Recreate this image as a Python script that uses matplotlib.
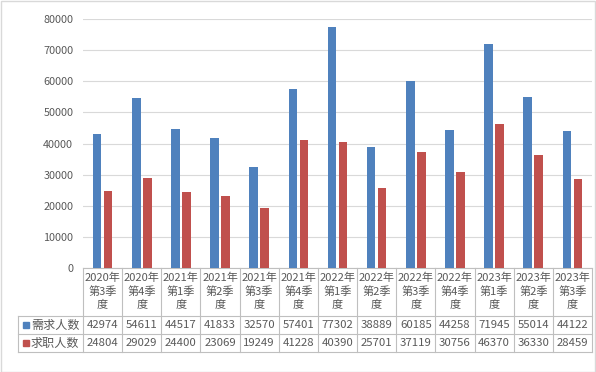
import matplotlib.pyplot as plt
from matplotlib.lines import Line2D
from matplotlib.patches import Rectangle
import numpy as np

plt.rcParams['font.family'] = ['Noto Sans CJK SC', 'DejaVu Sans']

categories = ['2020年\n第3季\n度', '2020年\n第4季\n度', '2021年\n第1季\n度', '2021年\n第2季\n度',
              '2021年\n第3季\n度', '2021年\n第4季\n度', '2022年\n第1季\n度', '2022年\n第2季\n度',
              '2022年\n第3季\n度', '2022年\n第4季\n度', '2023年\n第1季\n度', '2023年\n第2季\n度',
              '2023年\n第3季\n度']
demand = [42974, 54611, 44517, 41833, 32570, 57401, 77302, 38889, 60185, 44258, 71945, 55014, 44122]
seekers = [24804, 29029, 24400, 23069, 19249, 41228, 40390, 25701, 37119, 30756, 46370, 36330, 28459]
series_names = ['需求人数', '求职人数']
colors = ['#4F81BD', '#C0504D']
text_color = '#595959'
line_color = '#BFBFBF'

W, H = 596, 372
fig = plt.figure(figsize=(W / 100, H / 100), dpi=100)

# outer border
fig.patches.append(Rectangle((0.5 / W, 0.5 / H), (W - 1.5) / W, (H - 1.5) / H,
                             transform=fig.transFigure, fill=False, edgecolor='#D9D9D9', lw=1))

left, right, top, bottom = 83, 592, 19, 268
ax = fig.add_axes([left / W, 1 - bottom / H, (right - left) / W, (bottom - top) / H])

n = len(categories)
x = np.arange(n)
bw = 0.22
ax.bar(x - 0.14, demand, bw, color=colors[0], zorder=3)
ax.bar(x + 0.14, seekers, bw, color=colors[1], zorder=3)

ax.set_xlim(-0.5, n - 0.5)
ax.set_ylim(0, 80000)
ax.set_yticks(range(0, 80001, 10000))
ax.tick_params(axis='y', length=0, labelsize=7.8, labelcolor=text_color, pad=7)
ax.set_xticks([])
ax.grid(axis='y', color='#D9D9D9', lw=0.8, zorder=0)
for s in ['top', 'right', 'left']:
    ax.spines[s].set_visible(False)
ax.spines['bottom'].set_color(line_color)

# data table below the plot
def fx(px):
    return px / W

def fy(py):
    return 1 - py / H

cw = (right - left) / n
row_cat_bot, row1_bot, row2_bot = 316, 334, 352
tl = 18
lw = 0.8
for i in range(n + 1):
    xp = left + i * cw
    fig.add_artist(Line2D([fx(xp), fx(xp)], [fy(bottom), fy(row2_bot)], color=line_color, lw=lw))
fig.add_artist(Line2D([fx(tl), fx(tl)], [fy(row_cat_bot), fy(row2_bot)], color=line_color, lw=lw))
for yp in [row_cat_bot, row1_bot, row2_bot]:
    fig.add_artist(Line2D([fx(tl), fx(right)], [fy(yp), fy(yp)], color=line_color, lw=lw))

fs = 8.2
for i, c in enumerate(categories):
    xc = left + (i + 0.5) * cw
    fig.text(fx(xc), fy((bottom + row_cat_bot) / 2 - 0.5), c, ha='center', va='center',
             fontsize=8.0, color=text_color, linespacing=1.35)
    fig.text(fx(xc), fy((row_cat_bot + row1_bot) / 2), str(demand[i]), ha='center', va='center',
             fontsize=fs, color=text_color)
    fig.text(fx(xc), fy((row1_bot + row2_bot) / 2), str(seekers[i]), ha='center', va='center',
             fontsize=fs, color=text_color)

for j, (name, col) in enumerate(zip(series_names, colors)):
    yc = (row_cat_bot + j * 18 + row_cat_bot + (j + 1) * 18) / 2
    fig.patches.append(Rectangle((fx(23), fy(yc + 3)), 6 / W, 6 / H, transform=fig.transFigure,
                                 color=col))
    fig.text(fx(31), fy(yc), name, ha='left', va='center', fontsize=fs + 0.5, color=text_color)

plt.savefig('out.png', dpi=100)
